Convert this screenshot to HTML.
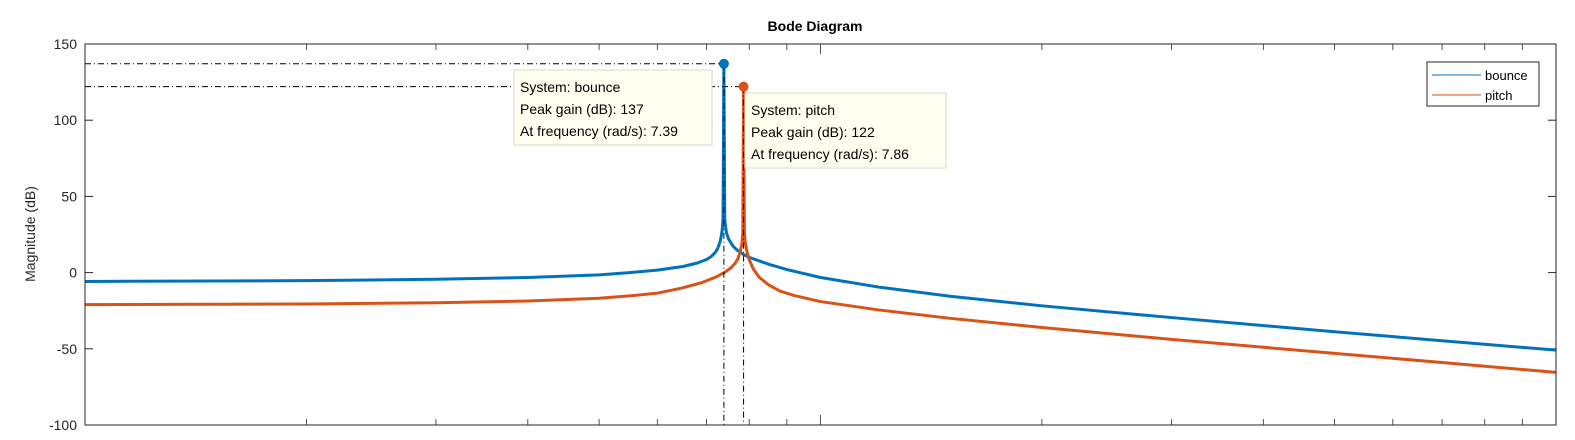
<!DOCTYPE html>
<html><head><meta charset="utf-8"><style>
html,body{margin:0;padding:0;background:#fff;}
svg{display:block;font-family:"Liberation Sans",Arial,sans-serif;}
</style></head><body>
<svg id="chart" width="1575" height="440" viewBox="0 0 1575 440" xmlns="http://www.w3.org/2000/svg">
<rect x="0" y="0" width="1575" height="440" fill="#fff"/>
<text x="815" y="31" text-anchor="middle" font-size="14" font-weight="bold" fill="#000">Bode Diagram</text>
<text transform="translate(35,234) rotate(-90)" text-anchor="middle" font-size="14" fill="#262626">Magnitude (dB)</text>
<g id="grid"></g>
<g id="series"></g>
<g id="annot"></g>
<rect x="85" y="44" width="1471" height="381" fill="none" stroke="#262626" stroke-width="1"/>
<g id="legend">
<rect x="1427" y="62" width="112" height="44" fill="#fff" stroke="#262626" stroke-width="1"/>
<line x1="1432" y1="75" x2="1481" y2="75" stroke="#0072BD" stroke-width="1"/>
<text x="1485" y="80" font-size="13" fill="#000">bounce</text>
<line x1="1432" y1="95" x2="1481" y2="95" stroke="#D95319" stroke-width="1"/>
<text x="1485" y="100" font-size="13" fill="#000">pitch</text>
</g>
</svg>
<script>
const yTicks=[150,100,50,0,-50,-100];
const bounceFreq=[1,2,3,4,5,5.5,6,6.5,6.8,7,7.1,7.2,7.25,7.3,7.33,7.35,7.37,7.39,7.41,7.43,7.45,7.5,7.6,7.7,7.85,8,8.5,9,10,12,15,20,30,50,70,100];
const bounceMag=[-5.8,-5.3,-4.4,-3.2,-1.5,0,1.6,4,6.3,8.6,10.5,13.5,16,20,24,28,35,137,35,30,26,22,17.5,14.8,12,10,5.5,2,-3.2,-9.5,-15.5,-21.8,-29.5,-38.8,-44.7,-50.9];
const pitchFreq=[1,2,3,4,5,5.5,6,6.5,6.9,7.2,7.4,7.55,7.65,7.72,7.78,7.82,7.84,7.86,7.88,7.9,7.94,8,8.1,8.25,8.5,8.8,9.2,10,12,15,20,30,50,70,100];
const pitchMag=[-21,-20.6,-19.8,-18.6,-16.8,-15.3,-13.5,-10,-6.5,-3,0,3,6,9,14,19,26,122,26,20,14,8.5,2.5,-3,-8,-12,-15,-19,-24.5,-30,-36,-43.8,-53,-59,-65.5];
const peaks=[{name:'bounce',f:7.39,g:137,c:'#0072BD'},{name:'pitch',f:7.86,g:122,c:'#D95319'}];
const L=85,R=1556,T=44,B=425;
const xS=f=>L+Math.log10(f)/2*(R-L);
const yS=v=>T+(150-v)/250*(B-T);
const NS='http://www.w3.org/2000/svg';
function mk(tag,attrs,parent){const e=document.createElementNS(NS,tag);for(const k in attrs)e.setAttribute(k,attrs[k]);parent.appendChild(e);return e;}
const grid=document.getElementById('grid');
yTicks.forEach(v=>{
  const y=yS(v);
  const t=mk('line',{x1:L,y1:y,x2:L+8,y2:y,stroke:'#262626'},grid);
  
  
  const t2=mk('line',{x1:R-8,y1:y,x2:R,y2:y,stroke:'#262626'},grid);
  
  
  const lb=mk('text',{x:L-8,y:y+5,'text-anchor':'end','font-size':'14',fill:'#262626'},grid);
  lb.textContent=v;
  
  
});
for(let d=0;d<2;d++){for(let m=1;m<=10;m++){
  const f=Math.pow(10,d)*m; if(m===1&&d>0)continue;
  const x=xS(f); const len=(m===1||m===10)?10:6;
  const a=mk('line',{x1:x,y1:B,x2:x,y2:B-len,stroke:'#262626','stroke-width':0.8},grid);
  
  
  const b=mk('line',{x1:x,y1:T,x2:x,y2:T+len,stroke:'#262626','stroke-width':0.8},grid);
  
  
}}
const ser=document.getElementById('series');
[[bounceFreq,bounceMag,'#0072BD','bounce'],[pitchFreq,pitchMag,'#D95319','pitch']].forEach(([fs,ms,c,n])=>{
  const d=fs.map((f,i)=>(i?'L':'M')+xS(f).toFixed(2)+','+yS(ms[i]).toFixed(2)).join(' ');
  const p=mk('path',{d:d,fill:'none',stroke:c,'stroke-width':3,'stroke-linejoin':'round'},ser);
  
  
});
const an=document.getElementById('annot');
peaks.forEach(p=>{
  const x=xS(p.f),y=yS(p.g);
  const h=mk('line',{x1:L,y1:y,x2:x,y2:y,stroke:'#000','stroke-width':1,'stroke-dasharray':'6,3,1,3'},an);
  
  
  const v=mk('line',{x1:x,y1:y,x2:x,y2:B,stroke:'#000','stroke-width':1,'stroke-dasharray':'6,3,1,3'},an);
  
  
  const dot=mk('circle',{cx:x,cy:y,r:5,fill:p.c},an);
  
  
});
const boxes=[{n:'bounce',x:514,y:70,w:198,lines:['System: bounce','Peak gain (dB): 137','At frequency (rad/s): 7.39']},
             {n:'pitch',x:745,y:93,w:201,lines:['System: pitch','Peak gain (dB): 122','At frequency (rad/s): 7.86']}];
boxes.forEach(b=>{
  const g=mk('g',{},an);
  
  
  mk('rect',{x:b.x,y:b.y,width:b.w,height:75,fill:'#FFFFF0',stroke:'#d8d8cc'},g);
  b.lines.forEach((s,i)=>{const t=mk('text',{x:b.x+6,y:b.y+22+i*22,'font-size':'14',fill:'#000'},g);t.textContent=s;});
});
</script>
</body></html>
